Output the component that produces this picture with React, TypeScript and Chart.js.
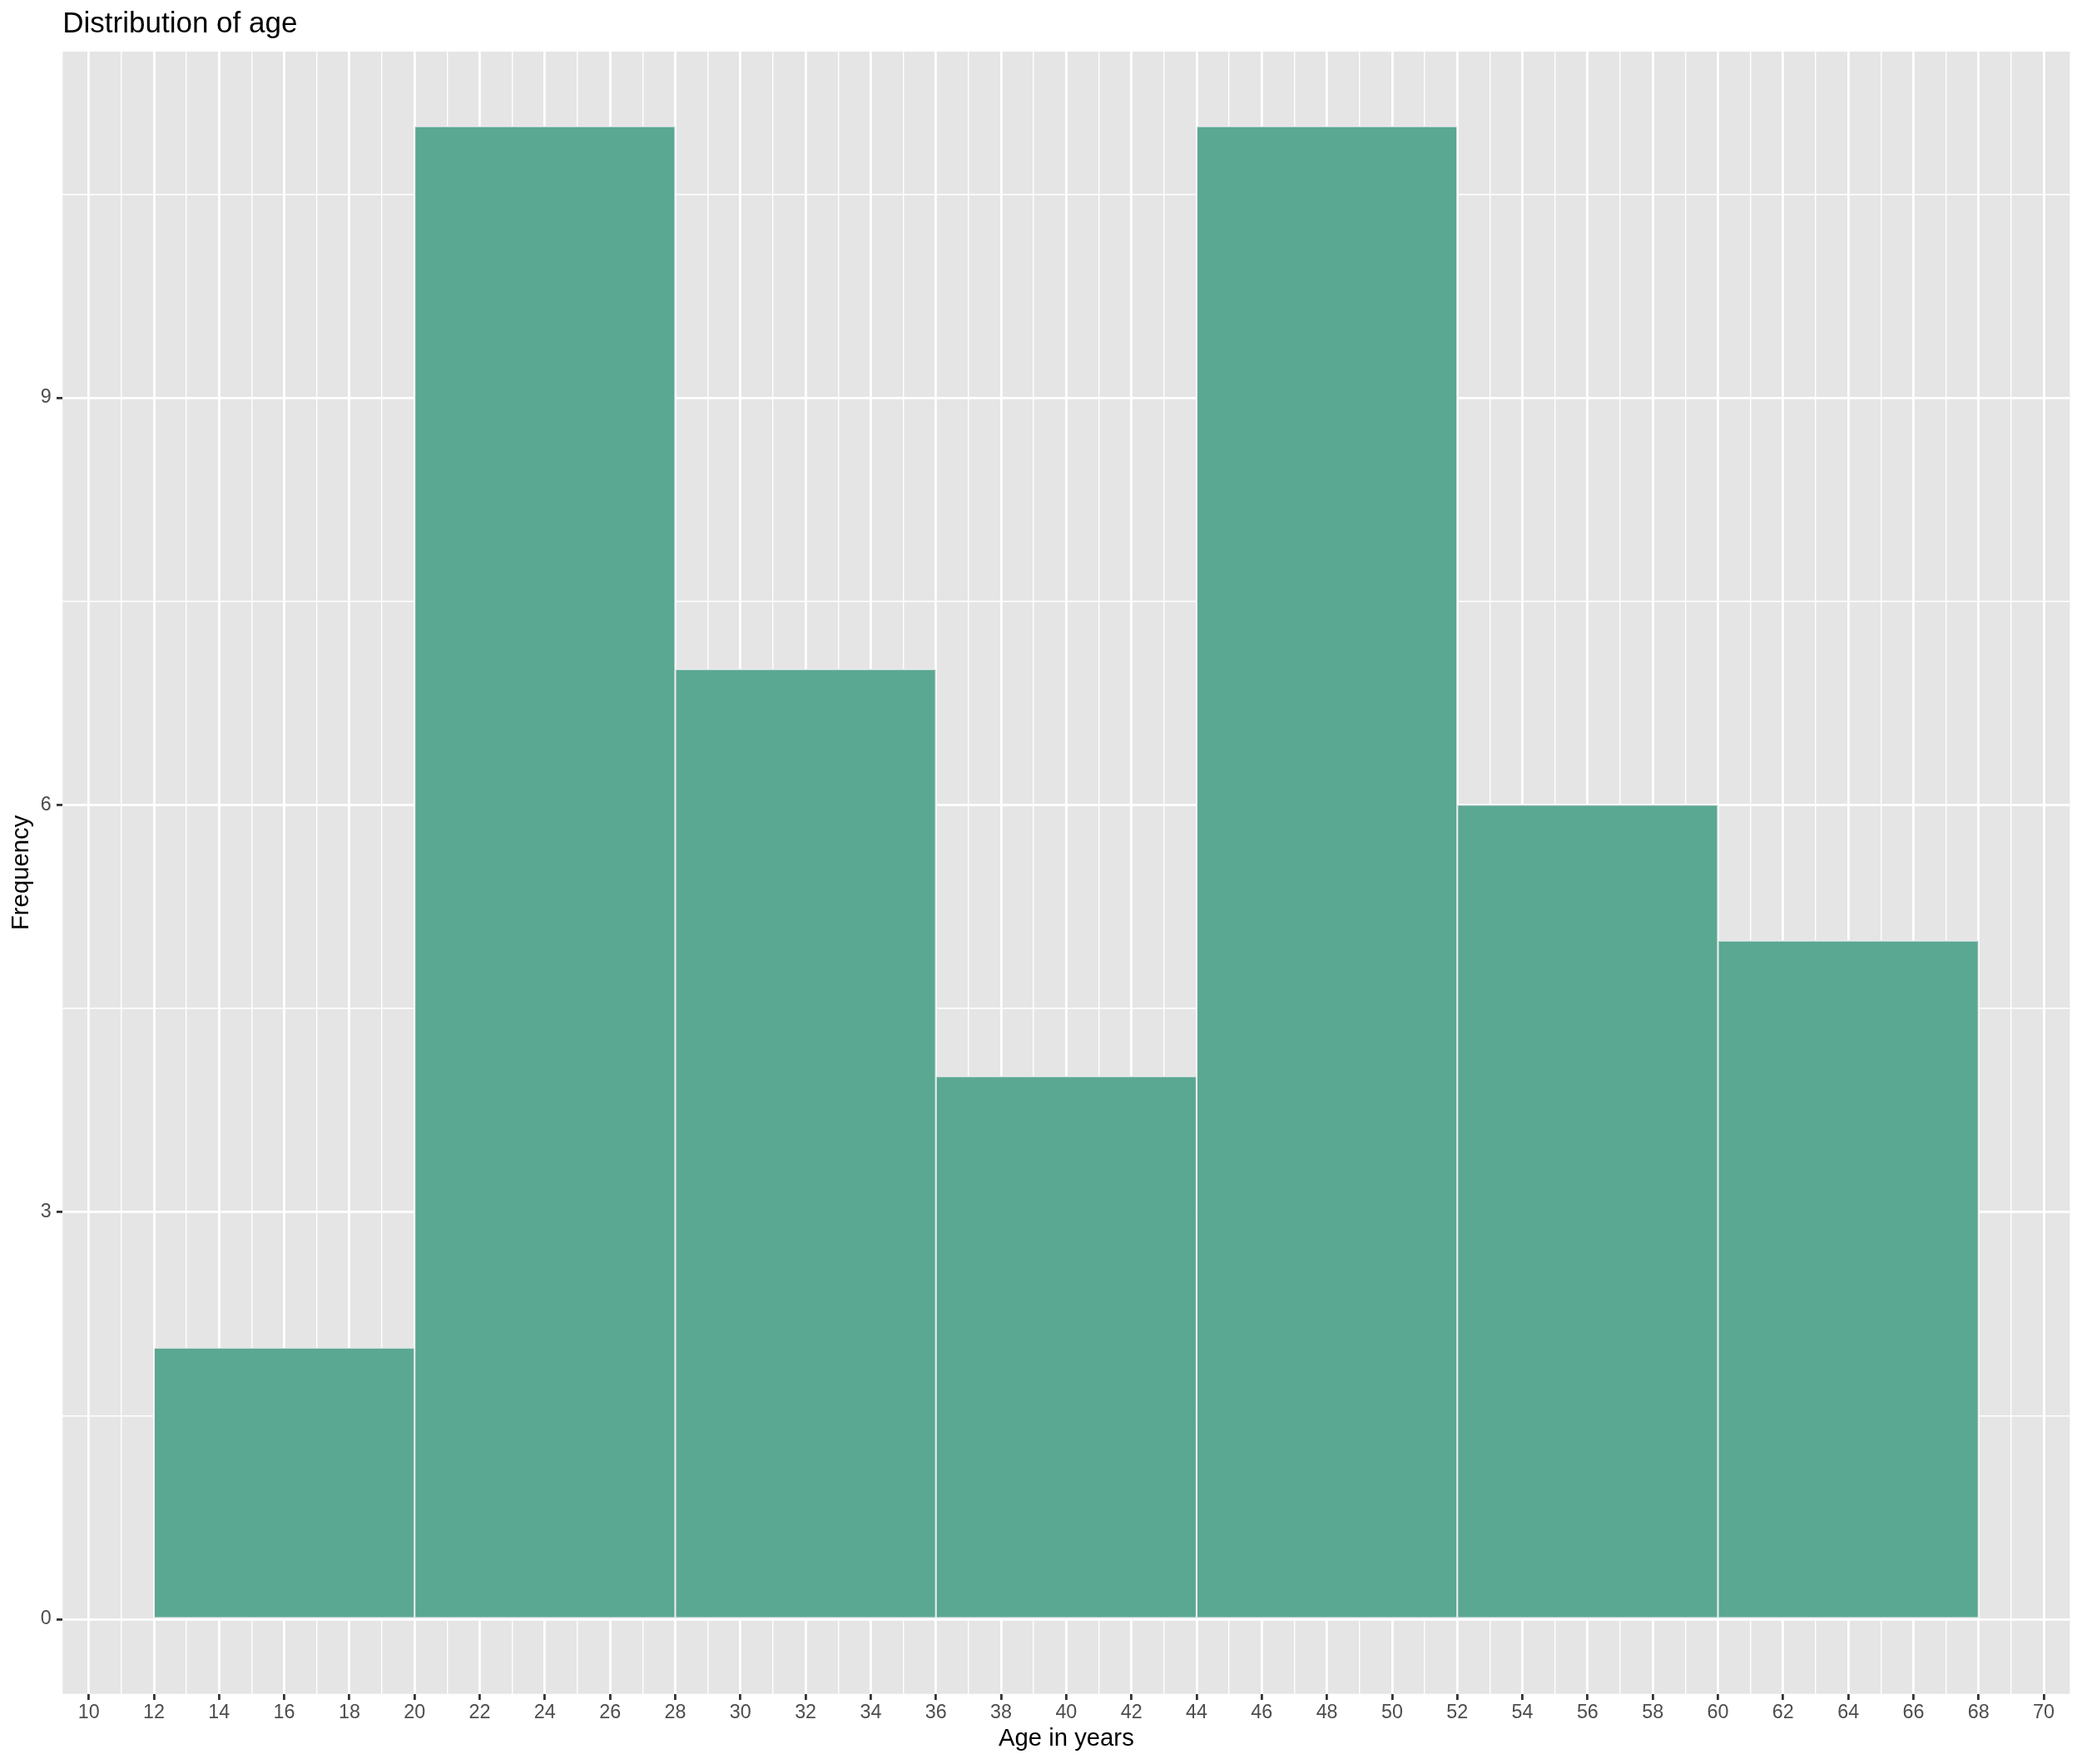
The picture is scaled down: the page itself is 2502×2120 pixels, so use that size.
import React, { useEffect, useRef } from 'react';
import { Chart, registerables } from 'chart.js';

Chart.register(...registerables);

// ---- data ----
const binEdges = [12, 20, 28, 36, 44, 52, 60, 68];
const counts = [2, 11, 7, 4, 11, 6, 5];

const xMajorTicks = [10, 12, 14, 16, 18, 20, 22, 24, 26, 28, 30, 32, 34, 36, 38, 40, 42, 44, 46, 48, 50, 52, 54, 56, 58, 60, 62, 64, 66, 68, 70];
const xMinorTicks = [11, 13, 15, 17, 19, 21, 23, 25, 27, 29, 31, 33, 35, 37, 39, 41, 43, 45, 47, 49, 51, 53, 55, 57, 59, 61, 63, 65, 67, 69];
const yMajorTicks = [0, 3, 6, 9];
const yMinorTicks = [1.5, 4.5, 7.5, 10.5];

const chartTitle = 'Distribution of age';
const xTitle = 'Age in years';
const yTitle = 'Frequency';

const FONT = "'Liberation Sans', Arial, Helvetica, sans-serif";
const W = 2502;
const H = 2120;

const isMajor = (list: number[], v: number) => list.some((m) => Math.abs(m - v) < 1e-9);

const panelBackground = {
  id: 'panelBackground',
  beforeDraw(chart: any) {
    const { ctx, chartArea } = chart;
    ctx.save();
    ctx.fillStyle = '#FFFFFF';
    ctx.fillRect(0, 0, chart.width, chart.height);
    ctx.fillStyle = '#E5E5E5';
    ctx.fillRect(chartArea.left, chartArea.top, chartArea.right - chartArea.left, chartArea.bottom - chartArea.top);
    ctx.restore();
  },
};

export default function App() {
  const canvasRef = useRef<HTMLCanvasElement | null>(null);

  useEffect(() => {
    document.body.style.margin = '0';
    document.body.style.overflow = 'hidden';
    const canvas = canvasRef.current;
    if (!canvas) return;

    const xRange = binEdges[binEdges.length - 1] - binEdges[0];
    const xMin = binEdges[0] - 0.05 * xRange;
    const xMax = binEdges[binEdges.length - 1] + 0.05 * xRange;
    const yTop = Math.max(...counts);
    const yMin = -0.05 * yTop;
    const yMax = yTop + 0.05 * yTop;

    const xAll = [...xMajorTicks, ...xMinorTicks].sort((a, b) => a - b);
    const yAll = [...yMajorTicks, ...yMinorTicks].sort((a, b) => a - b);

    const barData = counts.map((c, i) => ({ x: (binEdges[i] + binEdges[i + 1]) / 2, y: c }));

    const chart = new Chart(canvas, {
      type: 'bar',
      data: {
        datasets: [
          {
            data: barData as any,
            xAxisID: 'xBars',
            yAxisID: 'y',
            backgroundColor: 'rgb(90,167,146)',
            borderColor: '#E9ECEF',
            borderWidth: 1.4,
            borderSkipped: false,
            barPercentage: 1,
            categoryPercentage: 1,
          },
        ],
      },
      options: {
        responsive: false,
        animation: false,
        devicePixelRatio: 1,
        layout: { padding: { left: 0, right: 14.6, top: 0, bottom: 0 } },
        plugins: {
          legend: { display: false },
          tooltip: { enabled: false },
          title: {
            display: true,
            text: chartTitle,
            align: 'start',
            fullSize: false,
            color: '#000000',
            font: { family: FONT, size: 35, weight: 'normal', lineHeight: 1.2 },
            padding: { top: 7.9, bottom: 12.1 },
          },
        },
        scales: {
          xBars: {
            type: 'linear',
            axis: 'x',
            display: false,
            offset: false,
            grid: { offset: false },
            min: xMin,
            max: xMax,
            afterBuildTicks: (scale: any) => {
              scale.ticks = binEdges.map((v) => ({ value: v }));
            },
          },
          x: {
            type: 'linear',
            axis: 'x',
            position: 'bottom',
            offset: false,
            min: xMin,
            max: xMax,
            afterBuildTicks: (scale: any) => {
              scale.ticks = xAll.map((v) => ({ value: v }));
            },
            afterFit: (scale: any) => {
              scale.height = 84.3;
            },
            border: { display: false },
            grid: {
              offset: false,
              drawOnChartArea: true,
              drawTicks: true,
              tickLength: 7.3,
              color: '#FFFFFF',
              lineWidth: (ctx: any) => (isMajor(xMajorTicks, ctx.tick?.value) ? 2.8 : 1.4),
              tickColor: (ctx: any) => (isMajor(xMajorTicks, ctx.tick?.value) ? '#333333' : 'rgba(0,0,0,0)'),
              tickWidth: 2.8,
            },
            ticks: {
              autoSkip: false,
              maxRotation: 0,
              minRotation: 0,
              padding: 1.6,
              color: '#4D4D4D',
              font: { family: FONT, size: 23.3, lineHeight: 1.2 },
              callback: (v: any) => (isMajor(xMajorTicks, Number(v)) ? String(v) : ''),
            },
            title: {
              display: true,
              text: xTitle,
              color: '#000000',
              font: { family: FONT, size: 29.3, lineHeight: 1.2 },
              padding: { top: 0, bottom: 12.6 },
            },
          },
          y: {
            type: 'linear',
            position: 'left',
            offset: false,
            min: yMin,
            max: yMax,
            afterBuildTicks: (scale: any) => {
              scale.ticks = yAll.map((v) => ({ value: v }));
            },
            afterFit: (scale: any) => {
              scale.width = 75.3;
            },
            border: { display: false },
            grid: {
              offset: false,
              drawOnChartArea: true,
              drawTicks: true,
              tickLength: 7.3,
              color: '#FFFFFF',
              lineWidth: (ctx: any) => (isMajor(yMajorTicks, ctx.tick?.value) ? 2.8 : 1.4),
              tickColor: (ctx: any) => (isMajor(yMajorTicks, ctx.tick?.value) ? '#333333' : 'rgba(0,0,0,0)'),
              tickWidth: 2.8,
            },
            ticks: {
              autoSkip: false,
              padding: 6.2,
              color: '#4D4D4D',
              font: { family: FONT, size: 23.3, lineHeight: 1.2 },
              callback: (v: any) => (isMajor(yMajorTicks, Number(v)) ? String(v) : ''),
            },
            title: {
              display: true,
              text: yTitle,
              color: '#000000',
              font: { family: FONT, size: 29.3, lineHeight: 1.2 },
              padding: { top: 8, bottom: 0 },
            },
          },
        },
      } as any,
      plugins: [panelBackground],
    });

    return () => {
      chart.destroy();
    };
  }, []);

  return (
    <div style={{ width: W, height: H, overflow: 'hidden' }}>
      <canvas ref={canvasRef} width={W} height={H} style={{ display: 'block', width: W, height: H }} />
    </div>
  );
}
